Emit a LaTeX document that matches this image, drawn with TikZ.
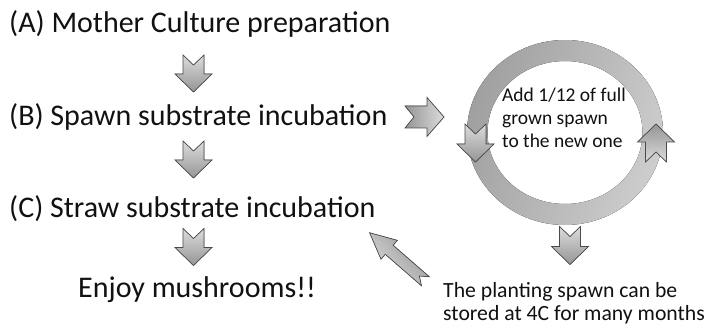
\documentclass[tikz,border=0pt]{standalone}
\usepackage{fontspec}
\setmainfont{Carlito}
\usetikzlibrary{calc}

\definecolor{arrowlight}{HTML}{DCDCDC}
\definecolor{arrowdark}{HTML}{959595}
\definecolor{arrowline}{HTML}{4A4A4A}
\definecolor{ringdark}{HTML}{A0A0A0}
\definecolor{ringlight}{HTML}{CDCDCD}
\definecolor{textcol}{HTML}{111111}

% \blockarrow{name}{x}{y}{rotation}{length}{head width}{shaft width}{head length}{notch depth}
% draws a notched block arrow pointing down before rotation
\newcommand{\blockarrow}[9]{%
  \begin{scope}[shift={(#2,#3)},rotate=#4]
    \coordinate (#1) at (0,0);
    \filldraw[arrowstyle,shading angle=-#4]
      ({-#7/2},{-#5/2}) -- (0,{-#5/2+#9}) -- ({#7/2},{-#5/2})
      -- ({#7/2},{#5/2-#8}) -- ({#6/2},{#5/2-#8}) -- (0,{#5/2})
      -- ({-#6/2},{#5/2-#8}) -- ({-#7/2},{#5/2-#8}) -- cycle;
  \end{scope}}

\tikzset{
  arrowstyle/.style={draw=arrowline,line width=0.7pt,line join=miter,
    top color=arrowlight,bottom color=arrowdark},
  steptext/.style={anchor=base west,inner sep=0pt,text=textcol,
    font=\fontsize{30}{36}\selectfont},
  notetext/.style={anchor=base west,inner sep=0pt,text=textcol,align=left},
}

\begin{document}
\begin{tikzpicture}[x=1pt,y=-1pt]
  \useasboundingbox (0,0) rectangle (705,326);
  \fill[white] (0,0) rectangle (705,326);

  % main steps
  \node[steptext] (A) at (9,33) {(A) Mother Culture preparation};
  \node[steptext] (B) at (9,126) {(B) Spawn substrate incubation};
  \node[steptext] (C) at (9,218) {(C) Straw substrate incubation};
  \node[steptext] (E) at (78,298) {Enjoy mushrooms!!};

  \blockarrow{ab}{193.5}{73.5}{0}{37}{37}{21}{18}{10}
  \blockarrow{bc}{193.5}{159.5}{0}{37}{37}{21}{18}{10}
  \blockarrow{ce}{193.5}{247}{0}{37}{37}{21}{18}{10}

  % spawn cycle
  \blockarrow{toring}{424.5}{117}{90}{39}{39}{22}{17}{9}
  \coordinate (ring) at (565,132.5);
  \fill[even odd rule,left color=ringdark,right color=ringlight,shading angle=70]
    (ring) ellipse [x radius=98,y radius=92.5]
    (ring) ellipse [x radius=77.5,y radius=71.5];
  \blockarrow{ringleft}{475.5}{143}{0}{38}{37}{21}{18}{10}
  \blockarrow{ringright}{656}{143}{180}{38}{37}{21}{18}{10}
  % the base anchor of a multi-line node sits on its last line
  \node[notetext,font=\fontsize{19.5}{23}\selectfont] (cycle) at (502,148)
    {Add 1/12 of full\\grown spawn\\to the new one};

  % storage branch
  \blockarrow{store}{570}{245.5}{0}{38}{37}{21}{18}{10}
  \node[notetext,font=\fontsize{21.7}{23}\selectfont] (note) at (443,320.5)
    {The planting spawn can be\\stored at 4C for many months};
  \blockarrow{back}{397.5}{257}{-131}{74}{25}{12}{26}{8}
\end{tikzpicture}
\end{document}
